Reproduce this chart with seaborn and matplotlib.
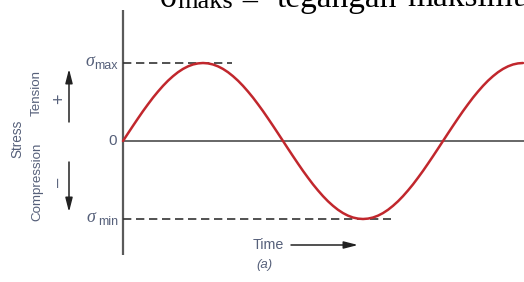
import matplotlib
matplotlib.use("Agg")
import matplotlib.pyplot as plt
import seaborn as sns
import pandas as pd

# ---- data (time in 1/64 period units, stress relative to sigma_max) ----
time = [0, 1, 2, 3, 4, 5, 6, 7, 8, 9, 10, 11, 12, 13, 14, 15, 16, 17, 18, 19, 20,
        21, 22, 23, 24, 25, 26, 27, 28, 29, 30, 31, 32, 33, 34, 35, 36, 37, 38, 39, 40,
        41, 42, 43, 44, 45, 46, 47, 48, 49, 50, 51, 52, 53, 54, 55, 56, 57, 58, 59, 60,
        61, 62, 63, 64, 65, 66, 67, 68, 69, 70, 71, 72, 73, 74, 75, 76, 77, 78, 79, 80]
stress = [0.000, 0.098, 0.195, 0.290, 0.383, 0.471, 0.556, 0.634, 0.707, 0.773, 0.831,
          0.882, 0.924, 0.957, 0.981, 0.995, 1.000, 0.995, 0.981, 0.957, 0.924, 0.882,
          0.831, 0.773, 0.707, 0.634, 0.556, 0.471, 0.383, 0.290, 0.195, 0.098, 0.000,
          -0.098, -0.195, -0.290, -0.383, -0.471, -0.556, -0.634, -0.707, -0.773, -0.831,
          -0.882, -0.924, -0.957, -0.981, -0.995, -1.000, -0.995, -0.981, -0.957, -0.924,
          -0.882, -0.831, -0.773, -0.707, -0.634, -0.556, -0.471, -0.383, -0.290, -0.195,
          -0.098, 0.000, 0.098, 0.195, 0.290, 0.383, 0.471, 0.556, 0.634, 0.707, 0.773,
          0.831, 0.882, 0.924, 0.957, 0.981, 0.995, 1.000]
sigma_max = 1.0
sigma_min = -1.0
max_dash_end = 21.8
min_dash_end = 53.6
y_labels = ["max", "0", "min"]
side_labels = ["Stress", "Tension", "Compression"]
x_label = "Time"
caption = "(a)"

sns.set_theme(style="white")
plt.rcParams["font.family"] = ["Liberation Sans", "DejaVu Sans"]

W, H = 524, 282
fig = plt.figure(figsize=(W / 100, H / 100), dpi=100)
ax = fig.add_axes([0, 0, 1, 1])
ax.set_xlim(-24.6, 80.2)
ax.set_ylim(-141 / 78, 141 / 78)
ax.axis("off")

df = pd.DataFrame({"time": time, "stress": stress})
red = "#c1272d"
axis_c = "#5a5a5a"
txt_c = "#56607a"

# axes lines
ax.plot([0, 0], [(141 - 10) / 78, (141 - 255) / 78], color=axis_c, lw=1.6, solid_capstyle="butt")
ax.axhline(0, xmin=24.6 / 104.8, xmax=1, color=axis_c, lw=1.3)

# dashed reference lines
ax.plot([0, max_dash_end], [sigma_max, sigma_max], color="#333333", lw=1.2, ls=(0, (5, 2.8)))
ax.plot([0, min_dash_end], [sigma_min, sigma_min], color="#333333", lw=1.2, ls=(0, (5, 2.8)))

sns.lineplot(data=df, x="time", y="stress", ax=ax, color=red, lw=1.8, legend=False)


def fpx(x, y):
    return (x / W, 1 - y / H)


serif = ["Liberation Serif", "DejaVu Serif"]
# y labels
fig.text(*fpx(89.5, 62), "σ", family=serif, style="italic",
         fontsize=13, color=txt_c, ha="center", va="center")
fig.text(*fpx(118, 66), y_labels[0], fontsize=9, color=txt_c, ha="right", va="center")
fig.text(*fpx(116.5, 141), y_labels[1], fontsize=11, color=txt_c, ha="right", va="center")
fig.text(*fpx(90.5, 217), "σ", family=serif, style="italic",
         fontsize=13, color=txt_c, ha="center", va="center")
fig.text(*fpx(118, 222), y_labels[2], fontsize=9, color=txt_c, ha="right", va="center")

# side labels
fig.text(*fpx(17, 139), side_labels[0], rotation=90, fontsize=9.8, color=txt_c, ha="center", va="center")
fig.text(*fpx(37, 93), side_labels[1], rotation=90, fontsize=9.6, color=txt_c, ha="center", va="center")
fig.text(*fpx(37, 182), side_labels[2], rotation=90, fontsize=9.6, color=txt_c, ha="center", va="center")
fig.text(*fpx(60, 99), "+", rotation=90, fontsize=13, color=txt_c, ha="center", va="center")
fig.text(*fpx(59.5, 182), "–", rotation=90, fontsize=12, color=txt_c, ha="center", va="center")

arrow_kw = dict(arrowstyle="-|>,head_length=0.7,head_width=0.18", color="#222222", lw=1.1,
                shrinkA=0, shrinkB=0)
ax.annotate("", xy=fpx(69, 69), xytext=fpx(69, 122), xycoords="figure fraction",
            textcoords="figure fraction", arrowprops=arrow_kw)
ax.annotate("", xy=fpx(69, 212), xytext=fpx(69, 162), xycoords="figure fraction",
            textcoords="figure fraction", arrowprops=arrow_kw)

# time label + arrow
fig.text(*fpx(253, 245), x_label, fontsize=10.3, color=txt_c, ha="left", va="center")
ax.annotate("", xy=fpx(358, 245), xytext=fpx(291, 245), xycoords="figure fraction",
            textcoords="figure fraction", arrowprops=arrow_kw)
fig.text(*fpx(264, 265), caption, fontsize=9.5, style="italic", color=txt_c, ha="center", va="center")

# clipped document text at the top
fig.text(*fpx(160, 7), "σ", family=serif, fontsize=24, color="black", ha="left", va="baseline")
fig.text(*fpx(177, 8), "maks", family=serif, fontsize=19, color="black", ha="left", va="baseline")
fig.text(*fpx(240, 9.5), "=", family=serif, fontsize=24, color="black", ha="left", va="baseline")
fig.text(*fpx(277, 6.5), "tegangan", family=serif, fontsize=24, color="black", ha="left", va="baseline")
fig.text(*fpx(407, 6.5), "maksimum", family=serif, fontsize=24, color="black", ha="left", va="baseline")

fig.savefig("out.png", dpi=100, facecolor="white")
